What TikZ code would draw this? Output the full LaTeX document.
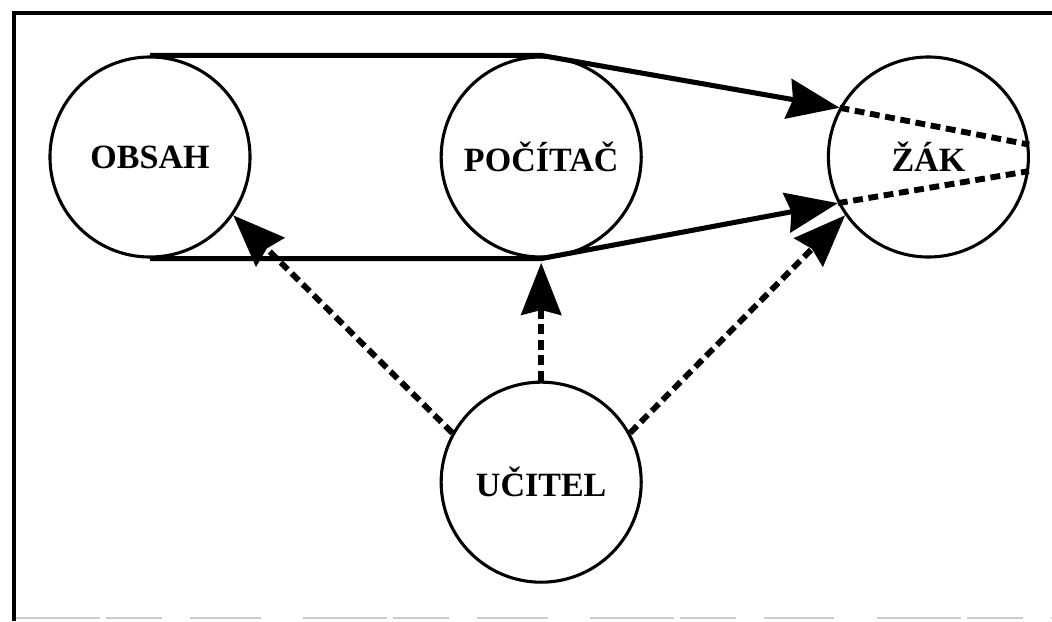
\documentclass[tikz,border=0pt]{standalone}
\usepackage{fontspec}
\setmainfont{Liberation Serif}
\usetikzlibrary{positioning}
\usetikzlibrary{arrows.meta}

\begin{document}
\begin{tikzpicture}[
    x=0.025cm, y=0.025cm,
    role/.style={circle, draw=black, line width=2.2pt, fill=white, minimum size=5cm, inner sep=0pt,
        font=\fontsize{24.2}{29}\selectfont\bfseries},
    flow/.style={line width=3.6pt, line join=round},
    hint/.style={line width=4.2pt, dash pattern=on 7pt off 4pt},
    tip/.style={-{Stealth[length=1.3cm, width=1cm, inset=0.12cm]}}
]
    \useasboundingbox (0,0) rectangle (1052,621);

    % Frame
    \draw[line width=3pt] (14,0) -- (14,608) -- (1052,608);
    \draw[gray!40, line width=1.2pt, dash pattern=on 60pt off 4pt on 40pt off 20pt on 50pt off 30pt]
        (16,3) -- (1052,3);

    % Roles
    \node[role] (OB) at (150,464) {OBSAH};
    \node[role] (PC) [right=4.7cm of OB] {POČÍTAČ};
    \node[role] (ZK) [right=4.6cm of PC] {ŽÁK};
    \node[role] (UC) [below=3.05cm of PC] {UČITEL};

    % Content through computer to pupil
    \draw[flow, tip] (OB.north) -- (PC.north) -- (ZK.151);
    \draw[flow, tip] (OB.south) -- (PC.south) -- (ZK.207);
    \draw[hint] (ZK.151) -- (ZK.7);
    \draw[hint] (ZK.207) -- (ZK.-8);

    % Teacher
    \draw[hint, tip] (UC.151) -- (OB.-35);
    \draw[hint, tip, shorten >=3pt] (UC.north) -- (PC.south);
    \draw[hint, tip] (UC.29) -- (ZK.215);
\end{tikzpicture}
\end{document}
